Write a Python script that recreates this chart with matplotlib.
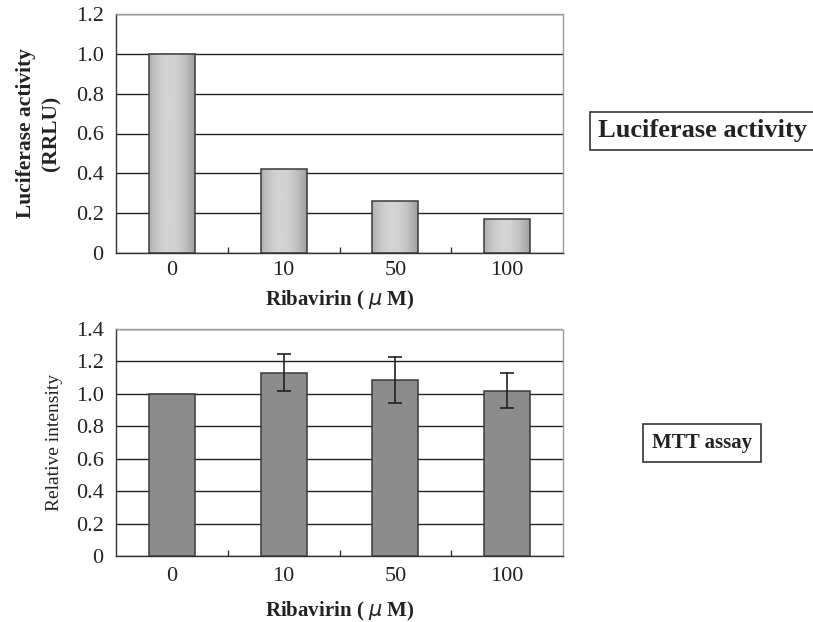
import numpy as np
import matplotlib
matplotlib.use("Agg")
import matplotlib.pyplot as plt
from matplotlib.ticker import FixedLocator

categories = ["0", "10", "50", "100"]
luciferase = [1.0, 0.42, 0.26, 0.17]
mtt = [1.0, 1.13, 1.085, 1.02]
mtt_err = [0.0, 0.115, 0.14, 0.11]
luc_yticks = [0, 0.2, 0.4, 0.6, 0.8, 1.0, 1.2]
luc_yticklabels = ["0", "0.2", "0.4", "0.6", "0.8", "1.0", "1.2"]
mtt_yticks = [0, 0.2, 0.4, 0.6, 0.8, 1.0, 1.2, 1.4]
mtt_yticklabels = ["0", "0.2", "0.4", "0.6", "0.8", "1.0", "1.2", "1.4"]

plt.rcParams['font.family'] = ['Liberation Serif', 'DejaVu Serif']

fig = plt.figure(figsize=(8.13, 6.22), dpi=100)
W, H = 813, 622

def axes_px(l, t, r, b):
    return fig.add_axes([l / W, 1 - b / H, (r - l) / W, (b - t) / H])

ax1 = axes_px(116, 14, 563, 253)
ax2 = axes_px(116, 329, 563, 556)

x = np.arange(len(categories))
bw = 0.41
TICK_FS = 16

def style_axes(ax, yticks, yticklabels, ymax, xpad):
    ax.set_xlim(-0.5, len(categories) - 0.5)
    ax.set_ylim(0, ymax)
    ax.set_yticks(yticks)
    ax.set_yticklabels(yticklabels, fontsize=TICK_FS, color='#222222')
    ax.set_xticks(x)
    ax.set_xticklabels(categories, fontsize=TICK_FS, color='#222222')
    ax.xaxis.set_minor_locator(FixedLocator(x[:-1] + 0.5))
    ax.tick_params(axis='x', which='major', length=0, pad=xpad)
    ax.tick_params(axis='x', which='minor', length=4, direction='in', color='#333333', width=1)
    ax.tick_params(axis='y', which='major', length=0, pad=9)
    ax.yaxis.grid(True, color='#222222', linewidth=1.0, zorder=0)
    ax.set_axisbelow(True)
    for s in ['top', 'right']:
        ax.spines[s].set_color('#9a9a9a')
        ax.spines[s].set_linewidth(1.0)
        ax.spines[s].set_linestyle((0, (1, 1)))
    for s in ['left', 'bottom']:
        ax.spines[s].set_color('#333333')
        ax.spines[s].set_linewidth(1.0)

# Top: luciferase with gradient bars
style_axes(ax1, luc_yticks, luc_yticklabels, 1.2, 6)
bars1 = ax1.bar(x, luciferase, width=bw, facecolor='none', edgecolor='#3a3a3a', linewidth=1.1, zorder=3)
grad = np.linspace(0, 1, 64)
prof = 1 - 1.0 * ((grad - 0.45) / 0.55) ** 2
prof = 0.62 + 0.21 * np.clip(prof, 0, 1)
img = np.tile(prof, (2, 1))
for p in bars1:
    bx, by = p.get_x(), p.get_y()
    w, h = p.get_width(), p.get_height()
    im = ax1.imshow(img, cmap='gray', vmin=0, vmax=1, extent=(bx, bx + w, by, by + h),
                    aspect='auto', zorder=2.5, interpolation='bilinear')
    im.set_clip_path(p)
ax1.set_xlim(-0.5, len(categories) - 0.5)
ax1.set_ylim(0, 1.2)
ax1.set_xlabel("Ribavirin ( $\\mu$ M)", fontsize=15, fontweight='bold', labelpad=6, color='#222222')
ax1.set_ylabel("Luciferase activity\n(RRLU)", fontsize=15.5, fontweight='bold', labelpad=10,
               linespacing=1.35, color='#222222')

# Bottom: MTT
style_axes(ax2, mtt_yticks, mtt_yticklabels, 1.4, 8)
ax2.bar(x, mtt, width=bw, color='#8c8c8c', edgecolor='#3a3a3a', linewidth=1.1, zorder=3)
idx = [i for i in range(len(mtt)) if mtt_err[i] > 0]
ax2.errorbar([x[i] for i in idx], [mtt[i] for i in idx], yerr=[mtt_err[i] for i in idx],
             fmt='none', ecolor='#222222', elinewidth=1.2, capsize=5, capthick=1.2, zorder=4)
ax2.set_xlabel("Ribavirin ( $\\mu$ M)", fontsize=15, fontweight='bold', labelpad=10, color='#222222')
ax2.set_ylabel("Relative intensity", fontsize=14, labelpad=9, color='#222222')

# Boxed labels
fig.text(702 / W, 1 - 131 / H, "Luciferase activity", fontsize=19, fontweight='bold',
         ha='center', va='center', color='#222222',
         bbox=dict(boxstyle='square,pad=0.3', facecolor='white', edgecolor='#333333', linewidth=1.2))
fig.text(702 / W, 1 - 443 / H, "MTT assay", fontsize=15, fontweight='bold',
         ha='center', va='center', color='#222222',
         bbox=dict(boxstyle='square,pad=0.45', facecolor='white', edgecolor='#333333', linewidth=1.2))

fig.savefig("out.png", dpi=100)
